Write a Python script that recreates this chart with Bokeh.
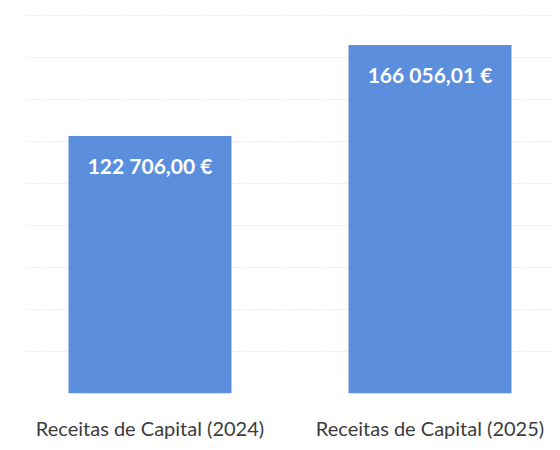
from bokeh.plotting import figure
from bokeh.models import ColumnDataSource, FactorRange, Range1d, SingleIntervalTicker
from bokeh.core.properties import value
from bokeh.embed import file_html
from bokeh.resources import INLINE

categories = ["Receitas de Capital (2024)", "Receitas de Capital (2025)"]
values = [122706.00, 166056.01]
value_labels = ["122 706,00 €", "166 056,01 €"]

source = ColumnDataSource(data=dict(cat=categories, val=values, lab=value_labels))

p = figure(
    x_range=FactorRange(*categories, range_padding=-0.0625, range_padding_units="absolute"),
    y_range=Range1d(0, 187300),
    width=552, height=442,
    output_backend="svg", toolbar_location=None,
    min_border_left=27, min_border_right=0, min_border_top=0, min_border_bottom=45,
)
p.outline_line_color = None
p.background_fill_color = "white"
p.border_fill_color = "white"

p.vbar(x="cat", top="val", width=0.582, source=source,
       fill_color="#5b8edc", line_color=None)

p.text(x="cat", y="val", text="lab", source=source,
       text_color="white", text_font=value("Lato"), text_font_style="bold",
       text_font_size="21px", text_align="center", text_baseline="middle",
       y_offset=29)

p.xgrid.visible = False
p.ygrid.ticker = SingleIntervalTicker(interval=20000)
p.ygrid.grid_line_color = "#e8e8e8"
p.ygrid.grid_line_dash = "3 2"
p.yaxis.visible = False

ax = p.xaxis[0]
ax.axis_line_color = None
ax.major_tick_line_color = None
ax.minor_tick_line_color = None
ax.major_tick_out = 0
ax.major_tick_in = 0
ax.major_label_standoff = 22
ax.major_label_text_font = "Lato"
ax.major_label_text_font_size = "20px"
ax.major_label_text_color = "#3c3c3c"

open("out.html", "w").write(file_html(p, INLINE))
